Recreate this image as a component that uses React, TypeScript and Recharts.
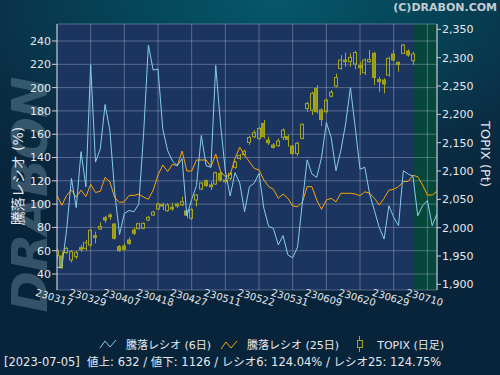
import React from 'react';
import { ComposedChart, Line, Bar, XAxis, YAxis, CartesianGrid, ReferenceArea } from 'recharts';

// trading-day index of the x tick labels
const tickIdx = [0, 7, 14, 21, 28, 35, 42, 49, 56, 63, 70, 77];
const tickLabels = ['230317', '230329', '230407', '230418', '230427', '230511', '230522', '230531', '230609', '230620', '230629', '230710'];

const leftTicks = [40, 60, 80, 100, 120, 140, 160, 180, 200, 220, 240];
const rightTicks = [1900, 1950, 2000, 2050, 2100, 2150, 2200, 2250, 2300, 2350];

// 騰落レシオ (6日)
const ratio6 = [
  45.7, 45.7, 78, 122, 97, 145, 115, 219.5, 136, 147.5,
  185.5, 163, 110, 74, 92, 94.5, 93.5, 100, 160, 236.5,
  215, 216, 164, 146, 137, 133, 139, 90, 104, 116,
  159, 133, 131.5, 219, 168.5, 128.5, 107, 127, 118, 93.5,
  115, 118, 126.4, 96.5, 81, 79, 65, 73, 56.5, 54,
  63, 101, 138, 125.8, 123, 140, 170, 157.3, 128.7, 145.8,
  168.8, 200, 166, 130, 131.6, 108.7, 94.3, 80, 70, 98.6,
  88.7, 81.5, 128.7, 125.8, 124.0, 90, 98.6, 103, 81.5, 91.5,
];

// 騰落レシオ (25日)
const ratio25 = [
  107.5, 99, 107.5, 112, 106, 112, 106.5, 117, 110, 111,
  123, 119, 105.5, 101.5, 102, 107.5, 107.5, 108.5, 106, 104.2,
  112, 125, 133.6, 128, 134.2, 133, 145.6, 128.4, 128.4, 137.9,
  137.9, 137.9, 132, 143, 128, 123.5, 125, 139.3, 148.8, 142,
  136.4, 130.7, 129.3, 120.7, 115, 112.7, 105, 108.7, 105, 98.4,
  97.8, 101.5, 115, 115, 103.5, 95.5, 103.5, 105, 102, 109.3,
  109.3, 109.3, 108.7, 107.2, 110.6, 109.3, 105, 99.2, 105, 112,
  112.7, 115, 119.2, 119.5, 124.75, 123.5, 116.4, 107.8, 107.8, 111,
];

// TOPIX daily OHLC
const topixOpen = [
  1950.6, 1950, 1956, 1943, 1948.8, 1964.7, 1963.5, 1969.4, 1985.8, 1997.6,
  2017.6, 2022.3, 2006.4, 1966.4, 1967.6, 1978.2, 1995.8, 1998.2, 1998.8, 2013.5,
  2022.3, 2032.9, 2041.1, 2030, 2035.8, 2041.7, 2040, 2029.4, 2016.4, 2048.8,
  2068.2, 2082.9, 2075.3, 2077, 2095.8, 2084, 2087, 2106.4, 2122, 2128.8,
  2150.5, 2160.5, 2157.6, 2184, 2154.6, 2145.8, 2144.7, 2159.4, 2160.5, 2144,
  2131, 2157.6, 2210.5, 2207.6, 2245.8, 2207.6, 2204.6, 2232, 2250, 2281,
  2295.8, 2293, 2288.8, 2286, 2273.5, 2293, 2307.6, 2261.7, 2260.5, 2269.4,
  2306.4, 2291.7, 2307.6, 2311.7, 2294.6,
];
const topixHigh = [
  1963.5, 1957.6, 1966.4, 1960.5, 1959.4, 1969.4, 1978.2, 1997, 1992.9, 2009.4,
  2020.5, 2025.3, 2007.6, 1969.4, 1972.3, 1982.9, 2000, 2008.8, 2009, 2020.5,
  2030, 2044, 2044, 2042.9, 2044, 2044, 2054.7, 2031.1, 2034, 2059.4,
  2081, 2085, 2081, 2098.8, 2098.8, 2087, 2098.8, 2118, 2130, 2137,
  2162, 2172, 2178, 2190, 2160.5, 2149.4, 2157.6, 2175, 2163.5, 2145.8,
  2151.7, 2184, 2222, 2240, 2251.7, 2210.5, 2228, 2242.9, 2272, 2304.6,
  2308.8, 2307.6, 2312, 2292.9, 2298.8, 2313.5, 2310.5, 2266.4, 2263.5, 2301.7,
  2313.5, 2292.9, 2323.5, 2314.6, 2310.5,
];
const topixLow = [
  1944, 1928, 1953.5, 1938.8, 1944.7, 1957.6, 1959.4, 1966.4, 1972.3, 1995.8,
  2008.8, 2013.5, 1979.4, 1957.6, 1959.4, 1969.4, 1987, 1997, 1997.6, 2011.7,
  2020.5, 2031, 2031, 2028.2, 2030, 2035, 2038.2, 2016.4, 2013.5, 2037,
  2066.4, 2072, 2066.4, 2075.3, 2081.2, 2078, 2084, 2104, 2119.6, 2126.4,
  2146, 2157.6, 2154.6, 2157.6, 2145.8, 2139.4, 2143, 2154.6, 2143, 2128.2,
  2126.4, 2155.8, 2204.6, 2198.8, 2201.7, 2179.4, 2201.7, 2229.9, 2247.6, 2278.2,
  2284, 2284, 2279.4, 2269.4, 2269.4, 2291, 2251.7, 2240, 2237, 2266.4,
  2292.9, 2275.3, 2306.4, 2301.7, 2287,
];
const topixClose = [
  1959.4, 1929, 1963.5, 1957.6, 1955.8, 1961.2, 1973.5, 1995.3, 1982.9, 2002.3,
  2013.5, 2019.4, 1981.2, 1959.4, 1961.7, 1972.3, 1990, 2007, 2007.6, 2018.2,
  2027.6, 2041.7, 2038.2, 2040, 2032.9, 2038.2, 2045.8, 2022.3, 2032.3, 2057.6,
  2078.8, 2074.1, 2072.3, 2097, 2084, 2081.2, 2095.8, 2115.8, 2127.6, 2135,
  2159, 2167.6, 2175, 2160.5, 2150, 2141.7, 2152.9, 2172.3, 2155.8, 2131,
  2148.8, 2182.3, 2219, 2237, 2204.6, 2191, 2225, 2239, 2265, 2295.8,
  2293, 2300.5, 2309, 2282.3, 2295.8, 2297, 2265, 2257.6, 2253.5, 2298.8,
  2295.8, 2288, 2322.3, 2304.6, 2306.4,
];

const selectedIdx = 74;

const data = ratio6.map((r, i) => {
  const has = i < topixOpen.length;
  return {
    i,
    r6: r,
    r25: ratio25[i],
    o: has ? topixOpen[i] : null,
    h: has ? topixHigh[i] : null,
    l: has ? topixLow[i] : null,
    c: has ? topixClose[i] : null,
    hl: has ? [topixLow[i], topixHigh[i]] : null,
  };
});

const FONT = '"DejaVu Sans", "Noto Sans CJK JP", sans-serif';
const TXT = '#e6e9ee';
const CANDLE_STROKE = '#a6a61c';
const CANDLE_FILL = '#9a9a16';

function Candle(props: any) {
  const { x, y, width, height, payload } = props;
  if (!payload || payload.o == null || !isFinite(y) || !isFinite(height)) return null;
  const top = Math.min(y, y + height);
  const bottom = Math.max(y, y + height);
  const hi = payload.h;
  const lo = payload.l;
  const span = hi - lo || 1;
  const py = (v: number) => top + ((hi - v) / span) * (bottom - top);
  const up = payload.c >= payload.o;
  const bTop = py(Math.max(payload.o, payload.c));
  const bBot = py(Math.min(payload.o, payload.c));
  const cx = Math.round(x + width / 2) + 0.5;
  const bx = Math.round(x) + 0.5;
  const bw = Math.max(3, Math.round(width) - 1);
  return (
    <g>
      <line x1={cx} x2={cx} y1={top} y2={bTop} stroke={CANDLE_STROKE} strokeWidth={1} />
      <line x1={cx} x2={cx} y1={bBot} y2={bottom} stroke={CANDLE_STROKE} strokeWidth={1} />
      <rect
        x={bx}
        y={bTop}
        width={bw}
        height={Math.max(1, bBot - bTop)}
        fill={up ? 'none' : CANDLE_FILL}
        stroke={CANDLE_STROKE}
        strokeWidth={1}
      />
    </g>
  );
}

function XTick(props: any) {
  const { x, y, payload } = props;
  const k = tickIdx.indexOf(payload.value);
  const label = k >= 0 ? tickLabels[k] : '';
  const tx = x - 3;
  const ty = y + 8;
  return (
    <text
      x={tx}
      y={ty}
      textAnchor="middle"
      dominantBaseline="middle"
      fontSize={10}
      fontFamily={FONT}
      fill={TXT}
      transform={`rotate(16 ${tx} ${ty})`}
    >
      {label}
    </text>
  );
}

function LegendLineIcon({ color }: { color: string }) {
  return (
    <svg width={18} height={10} style={{ display: 'inline-block', verticalAlign: 'middle' }}>
      <polyline points="1,9 6,2 11,8 17,1" fill="none" stroke={color} strokeWidth={1} />
    </svg>
  );
}

function LegendCandleIcon() {
  return (
    <svg width={8} height={16} style={{ display: 'inline-block', verticalAlign: 'middle' }}>
      <line x1={3.5} x2={3.5} y1={0} y2={16} stroke={CANDLE_STROKE} />
      <rect x={1.5} y={4.5} width={5} height={7} fill="#0b2a3e" stroke={CANDLE_STROKE} />
    </svg>
  );
}

export default function App() {
  const fmt = (v: number) => v.toLocaleString('en-US');
  return (
    <div
      style={{
        position: 'absolute',
        left: 0,
        top: 0,
        width: 500,
        height: 375,
        overflow: 'hidden',
        fontFamily: FONT,
        background: 'radial-gradient(ellipse 90% 60% at 55% 0%, #05586a 0%, #064457 35%, #0a2d44 70%, #08243a 100%)',
      }}
    >
      {/* watermark */}
      <div
        style={{
          position: 'absolute',
          left: 30,
          top: 195,
          transform: 'translate(-50%, -50%) rotate(-90deg)',
          fontSize: 50,
          fontWeight: 'bold',
          fontStyle: 'italic',
          color: 'rgba(95,130,150,0.5)',
          whiteSpace: 'nowrap',
          letterSpacing: -1,
          fontFamily: '"DejaVu Sans", sans-serif',
        }}
      >
        DRABON
      </div>

      <div style={{ position: 'absolute', left: 0, top: 0 }}>
        <ComposedChart
          width={500}
          height={375}
          data={data}
          margin={{ top: 24, right: 0, bottom: 55, left: 0 }}
        >
          <ReferenceArea
            yAxisId="left"
            x1={0}
            x2={79}
            fill="#1b3560"
            fillOpacity={1}
            stroke="none"
            ifOverflow="extendDomain"
            zIndex={-200}
          />
          <ReferenceArea
            yAxisId="left"
            x1={selectedIdx}
            x2={79}
            fill="#07463b"
            fillOpacity={1}
            stroke="none"
            zIndex={-200}
          />
          <CartesianGrid
            yAxisId="left"
            stroke="rgba(200,210,230,0.35)"
            strokeWidth={1}
            fill="none"
          />
          <XAxis
            type="number"
            dataKey="i"
            domain={[0, 79]}
            ticks={tickIdx}
            interval={0}
            tick={<XTick />}
            tickSize={0}
            tickMargin={0}
            axisLine={false}
            tickLine={false}
            height={30}
            allowDataOverflow
          />
          <YAxis
            yAxisId="left"
            orientation="left"
            domain={[26.3, 254.6]}
            ticks={leftTicks}
            interval={0}
            width={57}
            allowDataOverflow
            tick={{ fill: TXT, fontSize: 11, fontFamily: FONT }}
            tickSize={5}
            tickMargin={1}
            axisLine={{ stroke: '#c8d0dc' }}
            tickLine={{ stroke: '#c8d0dc' }}
          />
          <YAxis
            yAxisId="right"
            orientation="right"
            domain={[1890, 2359.4]}
            ticks={rightTicks}
            interval={0}
            width={63}
            allowDataOverflow
            tickFormatter={fmt}
            tick={{ fill: TXT, fontSize: 11, fontFamily: FONT }}
            tickSize={4}
            tickMargin={1}
            axisLine={{ stroke: '#c8d0dc' }}
            tickLine={{ stroke: '#c8d0dc' }}
          />
          <Bar
            yAxisId="right"
            dataKey="hl"
            barSize={5}
            shape={<Candle />}
            isAnimationActive={false}
          />
          <Line
            yAxisId="left"
            type="linear"
            dataKey="r25"
            stroke="#ffa500"
            strokeWidth={1}
            dot={false}
            isAnimationActive={false}
          />
          <Line
            yAxisId="left"
            type="linear"
            dataKey="r6"
            stroke="#87ceeb"
            strokeWidth={1}
            dot={false}
            isAnimationActive={false}
          />
        </ComposedChart>
      </div>

      {/* title */}
      <div
        style={{
          position: 'absolute',
          right: 3,
          top: 0,
          fontSize: 11,
          fontWeight: 'bold',
          color: '#c4ccd4',
          lineHeight: '15px',
        }}
      >
        (C)DRABON.COM
      </div>

      {/* axis titles */}
      <div
        style={{
          position: 'absolute',
          left: 17,
          top: 176,
          transform: 'translate(-50%, -50%) rotate(-90deg)',
          fontSize: 14,
          color: TXT,
          whiteSpace: 'nowrap',
        }}
      >
        騰落レシオ (%)
      </div>
      <div
        style={{
          position: 'absolute',
          left: 485,
          top: 154,
          transform: 'translate(-50%, -50%) rotate(90deg)',
          fontSize: 13,
          color: TXT,
          whiteSpace: 'nowrap',
        }}
      >
        TOPIX (Pt)
      </div>

      {/* legend */}
      <div
        style={{
          position: 'absolute',
          left: 99,
          top: 336,
          fontSize: 11,
          color: TXT,
          whiteSpace: 'nowrap',
          display: 'flex',
          alignItems: 'center',
          height: 16,
        }}
      >
        <LegendLineIcon color="#87ceeb" />
        <span style={{ marginLeft: 9 }}>騰落レシオ (6日)</span>
        <span style={{ marginLeft: 9 }}><LegendLineIcon color="#ffa500" /></span>
        <span style={{ marginLeft: 9 }}>騰落レシオ (25日)</span>
        <span style={{ marginLeft: 17 }}><LegendCandleIcon /></span>
        <span style={{ marginLeft: 13 }}>TOPIX (日足)</span>
      </div>

      {/* status line */}
      <div
        style={{
          position: 'absolute',
          left: 4,
          top: 354,
          fontSize: 11.5,
          color: TXT,
          whiteSpace: 'pre',
          lineHeight: '16px',
        }}
      >
        {`[2023-07-05]  値上: 632 / 値下: 1126 / レシオ6: 124.04% / レシオ25: 124.75%`}
      </div>
    </div>
  );
}
